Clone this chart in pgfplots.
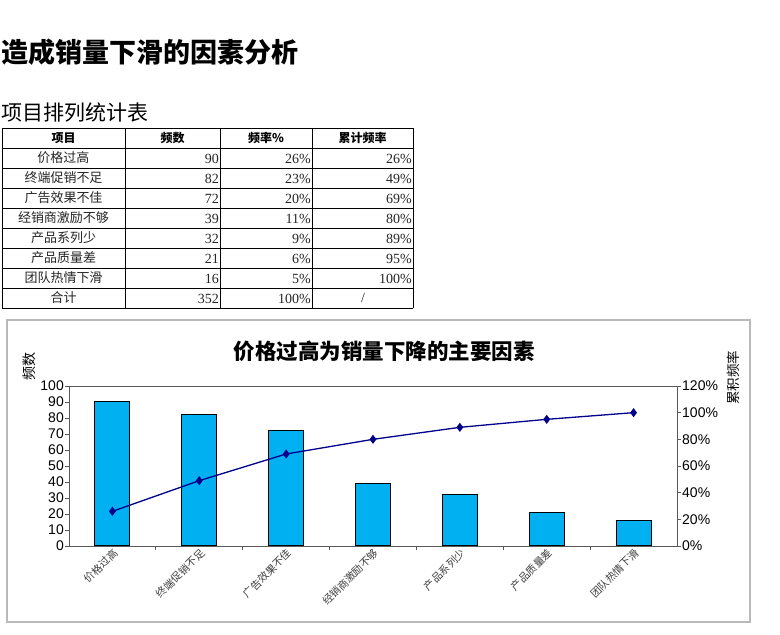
\documentclass[border=0pt]{standalone}
\usepackage{pgfplots}
\pgfplotsset{compat=1.18}
\usepackage{fontspec}
\setmainfont{Liberation Sans}
\newfontfamily\cjk{Noto Sans CJK SC}
\newfontfamily\serifnum{Liberation Serif}
\definecolor{barblue}{HTML}{00B0F0}
\definecolor{navyline}{HTML}{00008B}
\begin{document}
\begin{tikzpicture}
\useasboundingbox (0pt,0pt) rectangle (780pt,635pt);
\fill[white] (0pt,0pt) rectangle (780pt,635pt);
\begin{scope}[x=1pt,y=1pt]
% page title
\node[anchor=west, inner sep=0] at (1,635-52) {\cjk\bfseries\fontsize{27}{27}\selectfont 造成销量下滑的因素分析};
\node[anchor=west, inner sep=0] at (1,635-113) {\cjk\fontsize{21}{21}\selectfont 项目排列统计表};
% table
\foreach \yy in {128,148,...,308} \draw[black, line width=0.8pt] (2,635-\yy) -- (413,635-\yy);
\foreach \xx in {2,125,220,312,413} \draw[black, line width=0.8pt] (\xx,635-128) -- (\xx,635-308);
\node[font=\cjk\bfseries\fontsize{12}{12}\selectfont] at (63.5,635-138) {项目};
\node[font=\cjk\bfseries\fontsize{12}{12}\selectfont] at (172.5,635-138) {频数};
\node[font=\cjk\bfseries\fontsize{12}{12}\selectfont] at (266,635-138) {频率\%};
\node[font=\cjk\bfseries\fontsize{12}{12}\selectfont] at (362.5,635-138) {累计频率};
\foreach \n/\a/\b/\c [count=\i] in {价格过高/90/26\%/26\%, 终端促销不足/82/23\%/49\%, 广告效果不佳/72/20\%/69\%, 经销商激励不够/39/11\%/80\%, 产品系列少/32/9\%/89\%, 产品质量差/21/6\%/95\%, 团队热情下滑/16/5\%/100\%, 合计/352/100\%/{}}{
  \node[font=\cjk\fontsize{13}{13}\selectfont, text=black!85] at (63.5,635-138-20*\i) {\n};
  \node[anchor=east, inner sep=0, font=\serifnum\fontsize{14}{14}\selectfont, text=black!85] at (219,635-139-20*\i) {\a};
  \node[anchor=east, inner sep=0, font=\serifnum\fontsize{14}{14}\selectfont, text=black!85] at (311,635-139-20*\i) {\b};
  \node[anchor=east, inner sep=0, font=\serifnum\fontsize{14}{14}\selectfont, text=black!85] at (412,635-139-20*\i) {\c};
}
\node[font=\serifnum\fontsize{14}{14}\selectfont, text=black!85] at (363,635-298) {/};
% chart frame
\draw[gray!55, line width=1.2pt] (7,635-320) rectangle (750,635-622);
\node[font=\cjk\bfseries\fontsize{21.5}{21.5}\selectfont] at (384,635-351) {价格过高为销量下降的主要因素};
\node[rotate=90, font=\cjk\fontsize{14}{14}\selectfont] at (29,635-367) {频数};
\node[rotate=90, font=\cjk\fontsize{13.5}{13.5}\selectfont] at (733,635-378) {累积频率};
\end{scope}
% bars
\begin{axis}[at={(69pt,89pt)}, anchor=south west, scale only axis, width=608pt, height=160pt,
  xmin=-0.5, xmax=6.5, ymin=0, ymax=100, ytick={0,10,...,100},
  xtick={0.5,1.5,...,5.5}, xticklabels={},
  extra x ticks={0,...,6},
  extra x tick labels={价格过高,终端促销不足,广告效果不佳,经销商激励不够,产品系列少,产品质量差,团队热情下滑},
  extra x tick style={major tick length=0pt, xticklabel style={rotate=45, anchor=north east, font=\cjk\fontsize{10.5}{10.5}\selectfont, text=black!75, inner sep=1pt}},
  major tick length=4pt,
  xtick align=inside, ytick align=outside, ytick pos=left, xtick pos=bottom,
  x tick style={yshift=0pt},
  axis line style={gray!70!black, line width=0.8pt},
  tick style={gray!70!black, line width=0.8pt},
  /pgf/number format/assume math mode=true,
  yticklabel style={font=\fontsize{14}{14}\selectfont, inner sep=1pt},
  ybar, bar width=35pt, bar shift=0pt,
  clip=false]
\addplot[fill=barblue, draw=black, line width=1pt] coordinates {(0,90)(1,82)(2,72)(3,39)(4,32)(5,21)(6,16)};
\end{axis}
% cumulative line
\begin{axis}[at={(69pt,89pt)}, anchor=south west, scale only axis, width=608pt, height=160pt,
  xmin=-0.5, xmax=6.5, ymin=0, ymax=120, ytick={0,20,...,120},
  axis y line*=right, axis x line=none,
  ytick align=outside, major tick length=4pt,
  axis line style={gray!70!black, line width=0.8pt},
  tick style={gray!70!black, line width=0.8pt},
  /pgf/number format/assume math mode=true,
  yticklabel={\pgfmathprintnumber{\tick}\%},
  yticklabel style={font=\fontsize{14}{14}\selectfont, inner sep=1pt},
  clip=false]
\addplot[navyline, line width=1.3pt, mark=diamond*, mark size=3.5pt, mark options={fill=navyline}] coordinates {(0,26)(1,49)(2,69)(3,80)(4,89)(5,95)(6,100)};
\end{axis}
\end{tikzpicture}
\end{document}
